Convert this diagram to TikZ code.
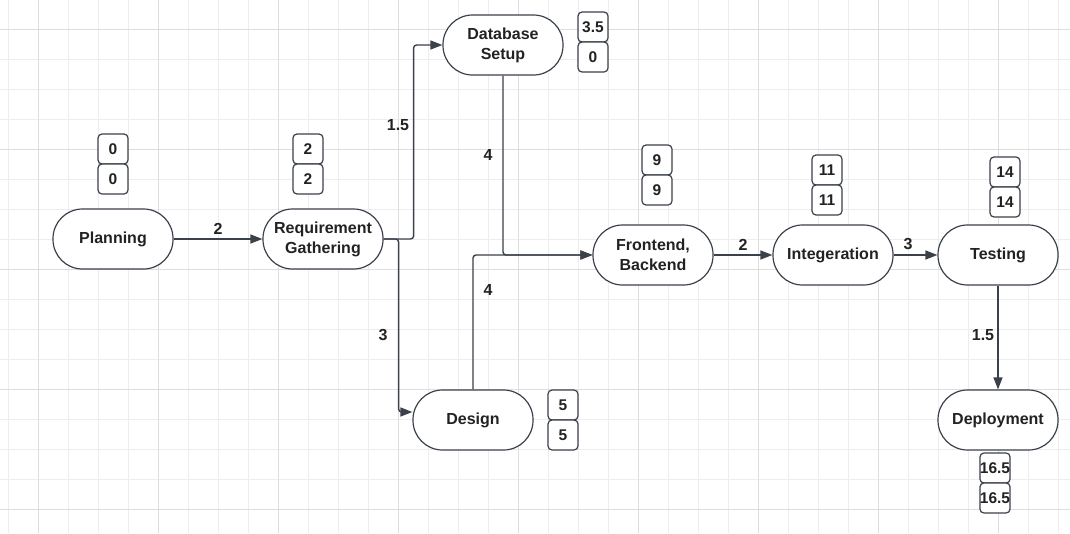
\documentclass[tikz,border=0pt]{standalone}
\usepackage{fontspec}
\setmainfont{Liberation Sans}
\usetikzlibrary{arrows.meta}
\definecolor{ln}{HTML}{3B414B}
\definecolor{txt}{HTML}{222222}
\definecolor{gminor}{HTML}{EDEDED}
\definecolor{gmajor}{HTML}{DEDEDE}
\tikzset{
  stad/.style={draw=ln, line width=1.2pt, rounded corners=29.5pt, minimum width=120pt, minimum height=60pt,
    inner sep=0pt, align=center, text=txt, font=\fontsize{16}{20}\selectfont\bfseries, fill=white},
  nbox/.style={draw=ln, line width=1.2pt, rounded corners=4pt, minimum width=30pt, minimum height=30pt,
    inner sep=0pt, text=txt, font=\fontsize{15.5}{17}\selectfont\bfseries, fill=white},
  conn/.style={draw=ln, line width=1.4pt, rounded corners=3pt, -{Triangle[length=12pt,width=9pt]}},
  elab/.style={text=txt, font=\fontsize{16}{18}\selectfont\bfseries, inner sep=0pt},
}
\begin{document}
\begin{tikzpicture}[x=1pt,y=-1pt]
\useasboundingbox (0,0) rectangle (1070,533);
\fill[white] (0,0) rectangle (1070,533);
% grid
\foreach \x in {8,38,...,1068} {\draw[gminor, line width=0.8pt] (\x,0) -- (\x,533);}
\foreach \y in {29,59,...,530} {\draw[gminor, line width=0.8pt] (0,\y) -- (1070,\y);}
\foreach \x in {38,158,...,1068} {\draw[gmajor, line width=0.9pt] (\x,0) -- (\x,533);}
\foreach \y in {29,149,...,530} {\draw[gmajor, line width=0.9pt] (0,\y) -- (1070,\y);}

% main nodes
\node[stad] (plan) at (113,239) {Planning};
\node[stad] (req) at (323,239) {Requirement\\Gathering};
\node[stad] (db) at (503,45) {Database\\Setup};
\node[stad] (des) at (473,420) {Design};
\node[stad] (fe) at (653,255) {Frontend,\\Backend};
\node[stad] (int) at (833,255) {Integeration};
\node[stad] (test) at (998,255) {Testing};
\node[stad] (dep) at (998,420) {Deployment};

% number boxes
\node[nbox] (planA) at (113,149) {0};
\node[nbox] (planB) at (113,179) {0};
\node[nbox] (reqA) at (308,149) {2};
\node[nbox] (reqB) at (308,179) {2};
\node[nbox] (dbA) at (593,27) {3.5};
\node[nbox] (dbB) at (593,57) {0};
\node[nbox] (desA) at (563,405) {5};
\node[nbox] (desB) at (563,435) {5};
\node[nbox] (feA) at (657,160) {9};
\node[nbox] (feB) at (657,190) {9};
\node[nbox] (intA) at (827,170) {11};
\node[nbox] (intB) at (827,200) {11};
\node[nbox] (testA) at (1005,172) {14};
\node[nbox] (testB) at (1005,202) {14};
\node[nbox] (depA) at (995,468) {16.5};
\node[nbox] (depB) at (995,498) {16.5};

% connectors
\draw[conn] (plan.east) -- (req.west);
\draw[conn] (req.east) -- ++(30,0) |- (db.west);
\draw[conn] (req.east) -- ++(15,0) |- ([yshift=8pt]des.west);
\draw[conn] (db.south) |- (fe.west);
\draw[conn] (des.north) |- (fe.west);
\draw[conn] (fe.east) -- (int.west);
\draw[conn] (int.east) -- (test.west);
\draw[conn] (test.south) -- (dep.north);

% edge labels
\node[elab] (l1) at (218,229) {2};
\node[elab] (l2) at (398,125) {1.5};
\node[elab] (l3) at (383,335) {3};
\node[elab] (l4) at (488,155) {4};
\node[elab] (l5) at (488,290) {4};
\node[elab] (l6) at (743,245) {2};
\node[elab] (l7) at (908,244) {3};
\node[elab] (l8) at (983,335) {1.5};
\end{tikzpicture}
\end{document}
